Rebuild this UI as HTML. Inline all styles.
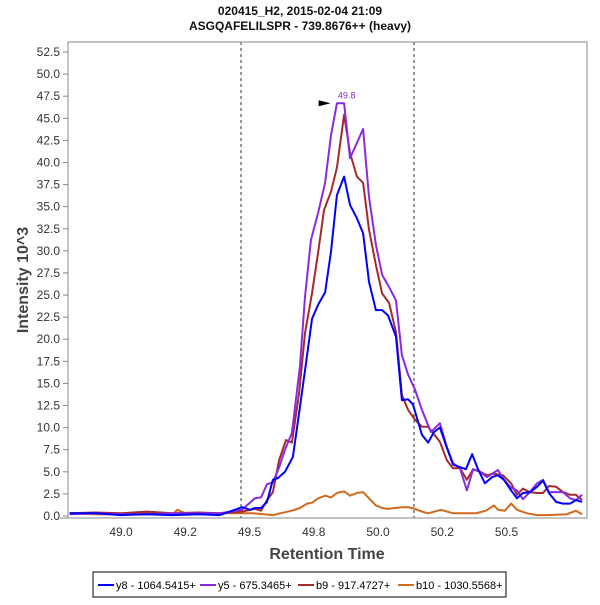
<!DOCTYPE html>
<html><head><meta charset="utf-8"><style>
body{margin:0;background:#fff;width:600px;height:600px;overflow:hidden;font-family:"Liberation Sans",sans-serif}
svg text{font-family:"Liberation Sans",sans-serif}
</style></head><body>
<svg id="chart" width="600" height="600">
<text x="300" y="15" text-anchor="middle" font-size="12" font-weight="bold" fill="#111">020415_H2, 2015-02-04 21:09</text>
<text x="300" y="30" text-anchor="middle" font-size="12" font-weight="bold" fill="#111">ASGQAFELILSPR - 739.8676++ (heavy)</text>
<g id="grid"></g>
<g id="series"></g>
<rect x="68" y="42" width="519" height="476" fill="none" stroke="#888" stroke-width="1"/>
<g id="axes"></g>
<text x="327" y="559" text-anchor="middle" font-size="16" font-weight="bold" fill="#444">Retention Time</text>
<text transform="translate(28,280) rotate(-90)" text-anchor="middle" font-size="16" font-weight="bold" fill="#444">Intensity 10^3</text>
<g>
<rect x="93" y="572" width="413" height="25" fill="#fff" stroke="#000" stroke-width="1"/>
<g><line x1="98" y1="585" x2="114" y2="585" stroke="#0000ff" stroke-width="2"/><text x="116" y="589" font-size="11" fill="#000">y8 - 1064.5415+</text></g>
<g><line x1="200" y1="585" x2="216" y2="585" stroke="#8a2be2" stroke-width="2"/><text x="218" y="589" font-size="11" fill="#000">y5 - 675.3465+</text></g>
<g><line x1="298" y1="585" x2="314" y2="585" stroke="#a52a2a" stroke-width="2"/><text x="316" y="589" font-size="11" fill="#000">b9 - 917.4727+</text></g>
<g><line x1="398" y1="585" x2="414" y2="585" stroke="#d2691e" stroke-width="2"/><text x="416" y="589" font-size="11" fill="#000">b10 - 1030.5568+</text></g>
</g>
</svg>
<script>
const xTicks=[49.0,49.25,49.5,49.75,50.0,50.25,50.5];
const xTickLabels=["49.0","49.2","49.5","49.8","50.0","50.2","50.5"];
const yTicks=[0,2.5,5,7.5,10,12.5,15,17.5,20,22.5,25,27.5,30,32.5,35,37.5,40,42.5,45,47.5,50,52.5];
const boundaries=[49.467,50.14];
const peakTime=49.8, peakValue=46.7;
const y8T=[48.8,48.9,49.0,49.1,49.2,49.3,49.385,49.471,49.502,49.521,49.545,49.568,49.591,49.611,49.638,49.669,49.696,49.720,49.743,49.767,49.794,49.817,49.840,49.868,49.891,49.918,49.942,49.965,49.992,50.016,50.039,50.070,50.093,50.117,50.136,50.171,50.195,50.218,50.241,50.268,50.292,50.342,50.366,50.389,50.416,50.444,50.467,50.490,50.518,50.541,50.564,50.591,50.619,50.642,50.665,50.693,50.720,50.747,50.770,50.794];
const y8V=[0.3,0.3,0.1,0.2,0.1,0.2,0.1,1.0,0.7,0.9,0.9,1.6,4.1,4.3,5.0,6.7,12.3,17.3,22.3,23.9,25.3,29.9,36.3,38.4,35.2,33.7,32.0,26.5,23.3,23.3,22.7,20.3,13.1,13.2,12.6,9.2,8.3,9.5,10.0,7.7,5.8,5.3,7.0,5.3,3.7,4.4,4.6,4.1,2.9,2.0,2.6,2.7,3.3,4.0,2.6,1.6,1.4,1.4,1.8,1.6];
const y5T=[48.8,48.9,49.0,49.1,49.2,49.3,49.385,49.471,49.521,49.545,49.568,49.591,49.615,49.638,49.665,49.696,49.716,49.739,49.767,49.794,49.817,49.840,49.868,49.891,49.918,49.942,49.965,49.992,50.016,50.043,50.070,50.093,50.117,50.144,50.171,50.206,50.241,50.268,50.292,50.319,50.346,50.370,50.397,50.424,50.467,50.490,50.518,50.541,50.564,50.591,50.619,50.642,50.665,50.693,50.720,50.747,50.770,50.794];
const y5V=[0.2,0.3,0.2,0.2,0.3,0.3,0.3,0.7,2.0,2.1,3.6,3.8,5.5,7.5,9.4,16.9,24.8,31.2,34.3,37.7,43.1,46.7,46.7,40.5,42.2,43.8,36.1,30.7,27.3,25.9,24.4,18.2,16.0,14.3,12.0,9.5,10.5,7.8,6.0,5.4,2.9,5.3,5.0,4.4,5.2,4.1,3.2,2.9,1.9,2.7,3.7,4.1,2.7,2.7,2.7,2.0,1.8,2.4];
const b9T=[48.8,48.9,49.0,49.1,49.2,49.3,49.385,49.471,49.521,49.545,49.568,49.591,49.615,49.642,49.665,49.693,49.716,49.743,49.767,49.790,49.817,49.840,49.868,49.891,49.918,49.942,49.965,49.992,50.016,50.043,50.070,50.093,50.117,50.144,50.171,50.195,50.241,50.268,50.292,50.319,50.346,50.370,50.397,50.424,50.447,50.486,50.518,50.541,50.564,50.591,50.619,50.642,50.665,50.693,50.720,50.747,50.770,50.794];
const b9V=[0.3,0.4,0.3,0.5,0.3,0.4,0.3,0.5,0.8,0.6,1.8,2.7,6.3,8.6,8.3,13.9,20.7,25.2,29.8,34.6,36.7,39.4,45.4,41.1,38.4,37.7,32.4,28.4,25.2,24.1,20.8,13.7,12.0,10.9,10.1,10.1,8.4,6.3,5.4,5.4,4.1,5.3,5.0,4.6,4.8,4.6,3.7,2.4,3.1,2.7,2.6,2.6,3.4,3.3,2.7,2.4,2.4,1.8];
const b10T=[48.8,48.9,49.0,49.1,49.2,49.22,49.25,49.3,49.385,49.514,49.591,49.619,49.665,49.696,49.724,49.743,49.767,49.794,49.817,49.840,49.868,49.891,49.918,49.942,49.965,49.992,50.016,50.039,50.066,50.093,50.117,50.144,50.171,50.195,50.245,50.292,50.331,50.381,50.420,50.451,50.467,50.494,50.518,50.541,50.580,50.619,50.658,50.735,50.770,50.794];
const b10V=[0.3,0.2,0.2,0.3,0.2,0.7,0.3,0.3,0.3,0.3,0.1,0.3,0.6,0.9,1.4,1.5,2.0,2.3,2.1,2.6,2.8,2.3,2.6,2.7,2.0,1.2,0.9,0.8,0.9,1.0,1.0,0.8,0.5,0.3,0.7,0.3,0.3,0.3,0.6,1.2,0.7,0.6,1.4,0.7,0.3,0.1,0.1,0.2,0.6,0.2];
const X=t=>121+(t-49)*257;
const Y=v=>516-v*8.838;
const NS="http://www.w3.org/2000/svg";
function mk(tag,attrs,parent){const e=document.createElementNS(NS,tag);for(const k in attrs)e.setAttribute(k,attrs[k]);parent.appendChild(e);return e;}
const axes=document.getElementById('axes'),grid=document.getElementById('grid'),ser=document.getElementById('series');
mk('line',{x1:60,y1:518,x2:587,y2:518,stroke:'#888'},axes);
xTicks.forEach((t,i)=>{const tx=mk('text',{x:X(t),y:536,'text-anchor':'middle','font-size':12,fill:'#333'},axes);tx.textContent=xTickLabels[i];

});
yTicks.forEach(v=>{mk('line',{x1:63,y1:Y(v),x2:68,y2:Y(v),stroke:'#888'},axes);const tx=mk('text',{x:60,y:Y(v)+4,'text-anchor':'end','font-size':12,fill:'#333'},axes);tx.textContent=v.toFixed(1);

});
boundaries.forEach(b=>{const l=mk('line',{x1:X(b),y1:42,x2:X(b),y2:518,stroke:'#333','stroke-dasharray':'3,3'},grid);

});
function line(T,V,color,name){const d=T.map((t,i)=>(i?'L':'M')+Math.max(68,Math.min(587,X(t))).toFixed(1)+','+Y(V[i]).toFixed(1)).join('');const p=mk('path',{d:d,fill:'none',stroke:color,'stroke-width':2,'stroke-linejoin':'round'},ser);

}
line(b10T,b10V,'#d2691e','series-b10');
line(b9T,b9V,'#a52a2a','series-b9');
line(y5T,y5V,'#8a2be2','series-y5');
line(y8T,y8V,'#0000ff','series-y8');
const lbl=mk('text',{x:X(peakTime)+20,y:Y(peakValue)-5,'text-anchor':'middle','font-size':9,fill:'#8a2be2'},ser);lbl.textContent=peakTime.toFixed(1);


const ax=X(peakTime)+4,ay=Y(peakValue);
const arr=mk('polygon',{points:`${ax-12},${ay-3} ${ax},${ay} ${ax-12},${ay+3}`,fill:'#000'},ser);


</script>
</body></html>
